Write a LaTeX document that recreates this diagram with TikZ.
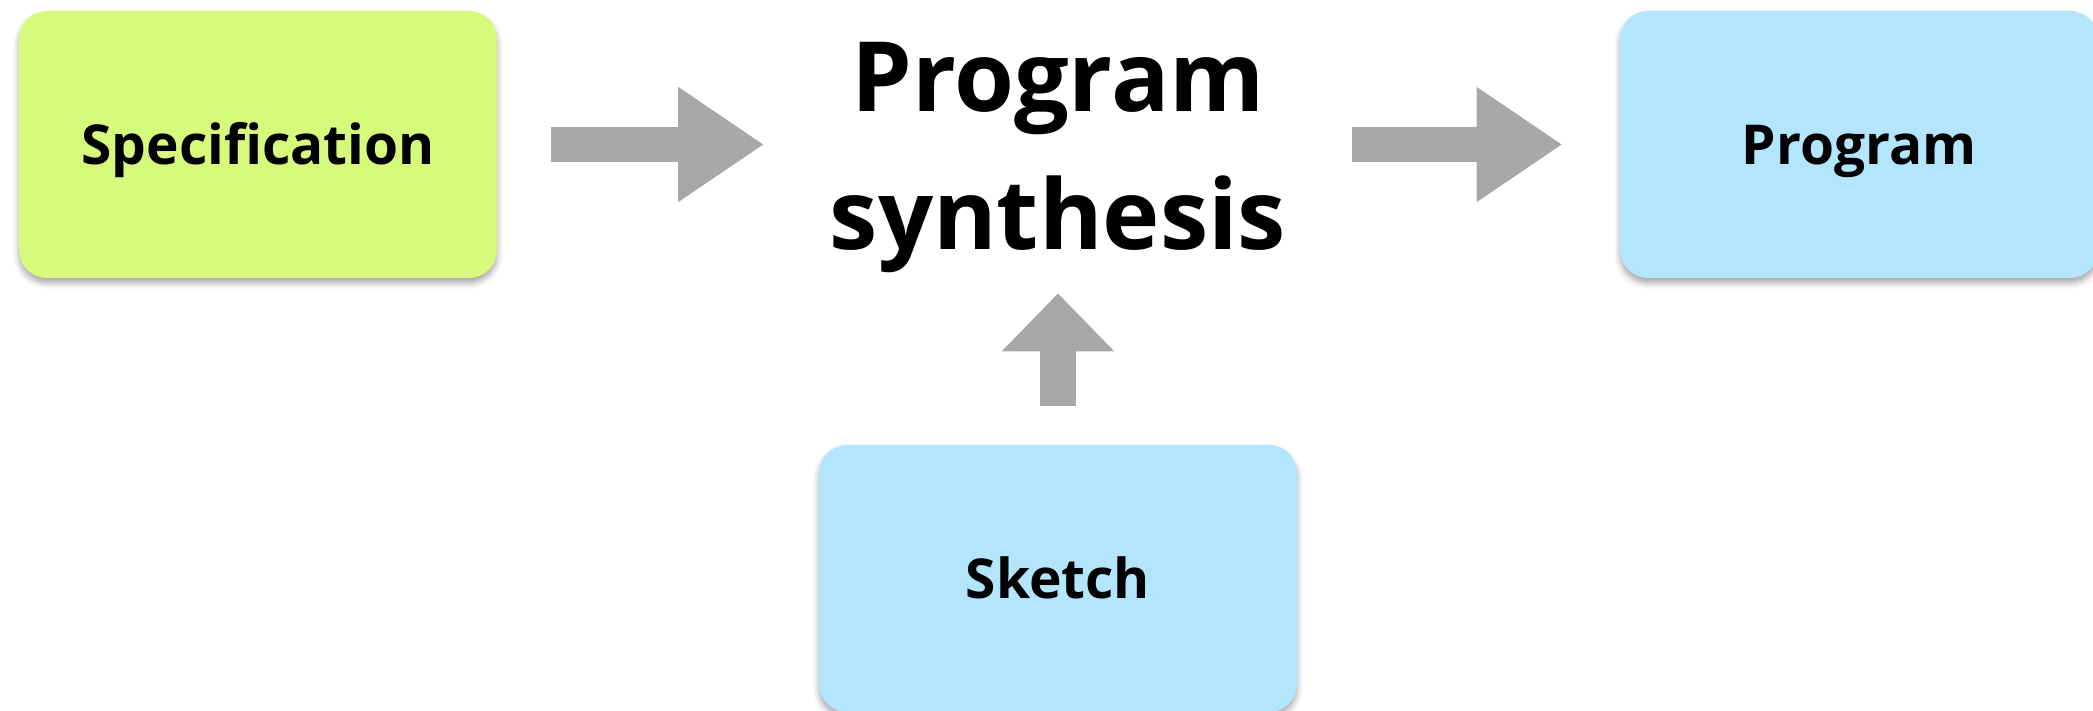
\documentclass[tikz,border=0pt]{standalone}
\usepackage{fontspec}
\setmainfont{Open Sans}
\usetikzlibrary{arrows.meta,shadows.blur}
\definecolor{specgreen}{RGB}{214,250,123}
\definecolor{boxblue}{RGB}{179,229,252}
\definecolor{arrowgrey}{RGB}{166,169,168}
\tikzset{
  card/.style={rounded corners=14pt, minimum width=239pt, minimum height=133.5pt,
    inner sep=0pt, font=\fontsize{27.5}{33}\selectfont\bfseries,
    text height=19.6pt, text depth=0pt,
    blur shadow={shadow xshift=0pt, shadow yshift=-2.5pt, shadow blur radius=3pt, shadow opacity=35}},
  hblock/.style={draw=arrowgrey, line width=17.5pt,
    -{Triangle[length=43pt, width=54.5pt, fill=arrowgrey]}},
  vblock/.style={draw=arrowgrey, line width=18pt,
    -{Triangle[length=29pt, width=54.5pt, fill=arrowgrey]}},
}
\begin{document}
\begin{tikzpicture}[x=0.5pt, y=-0.5pt]
\useasboundingbox (0,0) rectangle (2093,711);
\node[card, fill=specgreen] (spec) at (258,144.5) {Specification};
\node[card, fill=boxblue] (prog) at (1859,144.5) {Program};
\node[card, fill=boxblue] (sketch) at (1058,578.5) {Sketch};
\node[anchor=north, inner sep=0pt, minimum width=293.5pt, align=center,
  font=\fontsize{48.5}{69}\selectfont\bfseries] (synth) at (1058,42) {Program\\synthesis};
\draw[hblock] ([xshift=27pt]spec.east) -- (synth.west |- spec.east);
\draw[hblock] (synth.east |- prog.west) -- ([xshift=-28.5pt]prog.west);
\draw[vblock, shorten <=19.5pt] (sketch.north) -- ([yshift=-10pt]synth.south);
\end{tikzpicture}
\end{document}
